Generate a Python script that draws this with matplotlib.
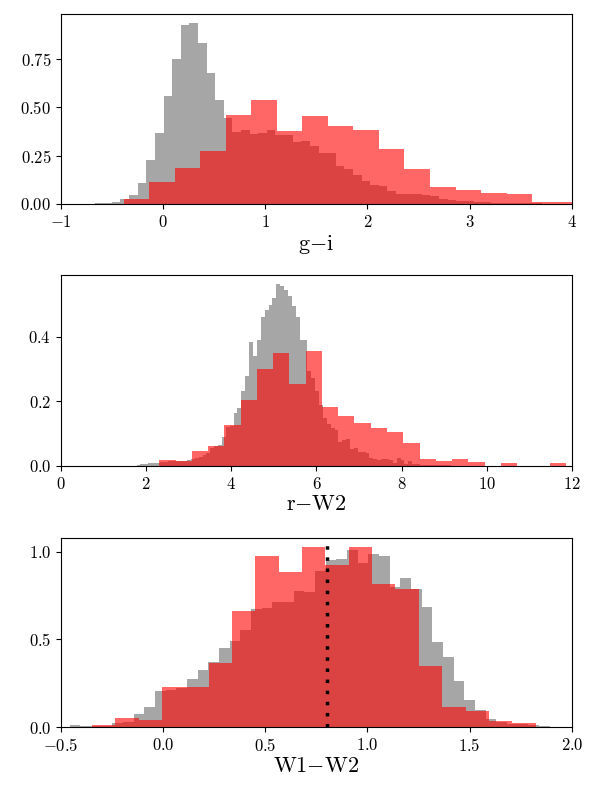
import numpy as np
import matplotlib
matplotlib.use("Agg")
import matplotlib.pyplot as plt
from matplotlib.ticker import MultipleLocator

# panel 1: g-i
gi_gray_start, gi_gray_width = -0.671, 0.0843
gi_gray = [0.004, 0.004, 0.012, 0.024, 0.045, 0.109, 0.226, 0.366, 0.557, 0.747,
           0.924, 0.934, 0.833, 0.674, 0.536, 0.446, 0.373, 0.382, 0.361, 0.366,
           0.382, 0.358, 0.358, 0.321, 0.325, 0.300, 0.264, 0.264, 0.196, 0.179,
           0.149, 0.118, 0.097, 0.092, 0.069, 0.050, 0.050, 0.054, 0.047, 0.043,
           0.028, 0.021, 0.017, 0.014, 0.009, 0.008, 0.007, 0.006, 0.005, 0.004,
           0.003, 0.003, 0.002, 0.002, 0.002, 0.001]
gi_red_start, gi_red_width = -0.388, 0.25
gi_red = [0.028, 0.113, 0.188, 0.273, 0.458, 0.538, 0.375, 0.455, 0.401, 0.380,
          0.285, 0.182, 0.087, 0.071, 0.056, 0.050, 0.010, 0.010]

# panel 2: r-W2
rw_gray_start, rw_gray_width = 1.774, 0.0912
rw_gray = [0.004, 0.005, 0.006, 0.008, 0.009, 0.010,
           0.012, 0.013, 0.014, 0.015, 0.015, 0.016, 0.017, 0.018,
           0.023, 0.026, 0.028, 0.033, 0.040, 0.057, 0.062, 0.065,
           0.0885, 0.120, 0.125, 0.164, 0.179, 0.231, 0.278,
           0.385, 0.341, 0.390, 0.460, 0.483, 0.499, 0.521, 0.5625, 0.557, 0.544,
           0.526, 0.494, 0.460, 0.390, 0.390,
           0.294, 0.273, 0.231, 0.190, 0.148, 0.130, 0.117, 0.111, 0.075, 0.080,
           0.085, 0.052, 0.057, 0.044, 0.042, 0.041, 0.026, 0.021, 0.020, 0.022,
           0.023, 0.018, 0.009, 0.026,
           0.018, 0.007, 0.015, 0.005, 0.005, 0.004, 0.004, 0.003, 0.003, 0.003,
           0.002, 0.002, 0.002]
rw_red_start, rw_red_width = 2.31, 0.382
rw_red = [0.020, 0.016, 0.047, 0.0625, 0.128, 0.205, 0.299, 0.349, 0.254, 0.357,
          0.182, 0.155, 0.132, 0.117, 0.106, 0.070, 0.021, 0.016, 0.021, 0.011,
          0.0, 0.008, 0.0, 0.0, 0.008]

# panel 3: W1-W2
ww_gray_start, ww_gray_width = -0.510, 0.0522
ww_gray = [0.002, 0.0095, 0.004, 0.006, 0.008, 0.021, 0.027, 0.074, 0.112, 0.208,
           0.210, 0.220, 0.272, 0.326, 0.373, 0.453, 0.491, 0.554, 0.674, 0.678,
           0.716, 0.716, 0.777, 0.773, 0.891, 0.952, 0.958, 1.010, 0.933, 0.987,
           0.977, 0.800, 0.848, 0.790, 0.686, 0.486, 0.400, 0.263, 0.156, 0.095,
           0.048, 0.029, 0.019, 0.015, 0.0095, 0.006, 0.002]
ww_red_start, ww_red_width = -0.349, 0.1143
ww_red = [0.0095, 0.051, 0.038, 0.230, 0.230, 0.364, 0.663, 0.975, 0.882, 1.027,
          0.924, 1.027, 0.817, 0.790, 0.347, 0.112, 0.090, 0.036, 0.021]
ww_cut = 0.8

labels = ["g$-$i", "r$-$W2", "W1$-$W2"]
limits = [(-1, 4), (0, 12), (-0.5, 2.0)]
ysteps = [0.25, 0.2, 0.5]


def draw(ax, start, width, heights, **kw):
    """histogram from bin start, width and heights"""
    edges = start + width * np.arange(len(heights) + 1)
    ax.hist(edges[:-1], bins=edges, weights=heights, **kw)


def main():
    plt.rcParams['font.family'] = 'serif'
    plt.rcParams['font.serif'] = ['cmr10']
    plt.rcParams['mathtext.fontset'] = 'cm'
    plt.rcParams['axes.formatter.use_mathtext'] = True
    plt.rcParams['axes.unicode_minus'] = True

    fig = plt.figure(figsize=(6, 8), dpi=100)
    boxes = [(0.745, 0.9825), (0.4175, 0.656), (0.09125, 0.3275)]
    data = [
        (gi_gray_start, gi_gray_width, gi_gray, gi_red_start, gi_red_width, gi_red),
        (rw_gray_start, rw_gray_width, rw_gray, rw_red_start, rw_red_width, rw_red),
        (ww_gray_start, ww_gray_width, ww_gray, ww_red_start, ww_red_width, ww_red),
    ]

    for i, (bot, top) in enumerate(boxes):
        ax = fig.add_axes([0.1017, bot, 0.953 - 0.1017, top - bot])
        gs, gw, gh, rs, rw, rh = data[i]
        draw(ax, gs, gw, gh, color='gray', alpha=0.7)
        draw(ax, rs, rw, rh, color='red', alpha=0.6)
        ax.set_xlim(limits[i])
        ax.yaxis.set_major_locator(MultipleLocator(ysteps[i]))
        ax.set_xlabel(labels[i], fontsize=16, labelpad=2)
        ax.tick_params(labelsize=12)
        if i == 2:
            ax.axvline(ww_cut, color='black', linestyle=(0, (1, 2.2)), linewidth=2.5)

    fig.savefig("out.png", dpi=100)


if __name__ == "__main__":
    main()
